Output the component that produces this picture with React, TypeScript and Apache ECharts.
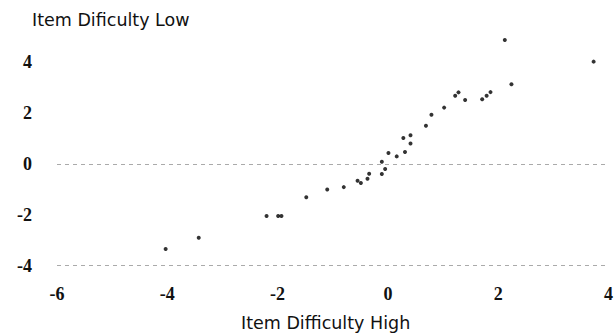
import React, { useEffect, useRef } from "react";
import * as echarts from "echarts";

const xValues: number[] = [
  2.12, 3.73, 2.24, 1.28, 1.22, 1.4, 1.86, 1.79, 1.71, 1.02, 0.79, 0.69, 0.41,
  0.28, 0.41, 0.01, 0.16, 0.31, -0.11, -0.05, -0.11, -0.34, -0.37, -0.49, -0.55,
  -0.8, -1.1, -1.48, -2.2, -1.99, -1.93, -3.43, -4.03,
];
const yValues: number[] = [
  4.88, 4.03, 3.14, 2.82, 2.69, 2.52, 2.83, 2.69, 2.55, 2.22, 1.94, 1.51, 1.13,
  1.02, 0.81, 0.43, 0.3, 0.47, 0.09, -0.2, -0.39, -0.38, -0.58, -0.75, -0.66,
  -0.91, -1.0, -1.31, -2.05, -2.05, -2.05, -2.9, -3.35,
];
const referenceLines: number[] = [0, -4];
const xTicks: number[] = [-6, -4, -2, 0, 2, 4];
const yTicks: number[] = [-4, -2, 0, 2, 4];
const yTitle = "Item Dificulty Low";
const xTitle = "Item Difficulty High";

export default function App() {
  const ref = useRef<HTMLDivElement>(null);
  useEffect(() => {
    if (!ref.current) return;
    const chart = echarts.init(ref.current, null, { renderer: "svg" });
    const points = xValues.map((x, i) => [x, yValues[i]]);
    const tickFont = {
      fontFamily: "Liberation Serif",
      fontWeight: "bold" as const,
      fontSize: 18,
      color: "#111",
    };
    chart.setOption({
      animation: false,
      backgroundColor: "#fff",
      grid: { left: 57, right: 7, top: 62.4, bottom: 69.4, containLabel: false },
      xAxis: {
        type: "value",
        min: xTicks[0],
        max: xTicks[xTicks.length - 1],
        interval: 2,
        axisLine: { show: false },
        axisTick: { show: false },
        splitLine: { show: false },
        axisLabel: { ...tickFont, margin: 19 },
      },
      yAxis: {
        type: "value",
        min: yTicks[0],
        max: yTicks[yTicks.length - 1],
        interval: 2,
        axisLine: { show: false },
        axisTick: { show: false },
        splitLine: { show: false },
        axisLabel: { ...tickFont, margin: 25, align: "right" },
      },
      graphic: [
        {
          type: "text",
          left: 32,
          top: 11,
          style: {
            text: yTitle,
            font: "17.5px 'DejaVu Sans'",
            fill: "#111",
          },
        },
        {
          type: "text",
          left: 241,
          top: 314,
          style: {
            text: xTitle,
            font: "17.5px 'DejaVu Sans'",
            fill: "#111",
          },
        },
      ],
      series: [
        {
          type: "scatter",
          data: points,
          symbol: "circle",
          symbolSize: 4,
          clip: false,
          itemStyle: { color: "#000" },
          markLine: {
            silent: true,
            symbol: "none",
            label: { show: false },
            lineStyle: { color: "#aaa", width: 1, type: [4, 4] },
            data: referenceLines.map((v) => ({ yAxis: v })),
          },
        },
      ],
    });
    return () => chart.dispose();
  }, []);
  return (
    <div
      ref={ref}
      style={{ position: "fixed", left: 0, top: 0, width: 616, height: 335 }}
    />
  );
}
